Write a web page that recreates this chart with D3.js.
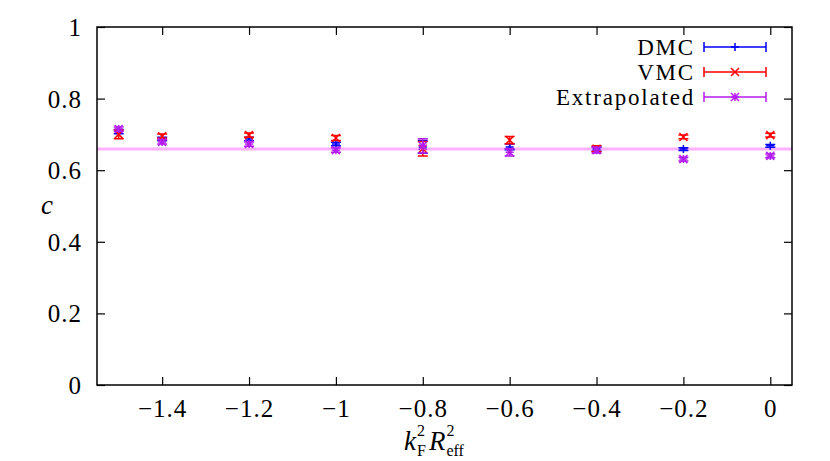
<!DOCTYPE html>
<html lang="en">
<head>
    <meta charset="utf-8">
    <title>c vs kF2 Reff2</title>
    <script src="https://d3js.org/d3.v7.min.js"></script>
    <style>
        body { margin: 0; background: #fff; }
        text { font-family: "Liberation Serif", "DejaVu Serif", serif; fill: #000; }
    </style>
</head>
<body>
<svg id="chart" width="830" height="461"></svg>
<script>
    // values
    var xs = [-1.5, -1.4, -1.2, -1.0, -0.8, -0.6, -0.4, -0.2, 0.0];
    var dmc = [0.708, 0.687, 0.687, 0.673, 0.665, 0.665, 0.659, 0.659, 0.668];
    var dmcErr = [0.006, 0.005, 0.005, 0.005, 0.018, 0.008, 0.006, 0.004, 0.004];
    var vmc = [0.700, 0.695, 0.698, 0.690, 0.660, 0.684, 0.660, 0.693, 0.698];
    var vmcErr = [0.012, 0.006, 0.006, 0.007, 0.020, 0.010, 0.008, 0.005, 0.005];
    var extrap = [0.715, 0.679, 0.673, 0.656, 0.668, 0.650, 0.656, 0.631, 0.640];
    var extrapErr = [0.006, 0.006, 0.006, 0.006, 0.020, 0.010, 0.008, 0.005, 0.005];
    var fitLevel = 0.659;
    var xTicks = [-1.4, -1.2, -1, -0.8, -0.6, -0.4, -0.2, 0];
    var yTicks = [0, 0.2, 0.4, 0.6, 0.8, 1];

    function main() {
        var svg = d3.select("#chart");
        var pl = 97, pr = 792, pt = 27, pb = 385;

        var x = d3.scaleLinear().domain([-1.55, 0.05]).range([pl, pr]);
        var y = d3.scaleLinear().domain([0, 1]).range([pb, pt]);

        function fmt(d) {
            var s = String(+d.toFixed(1));
            return d < 0 ? "\u2212" + s.slice(1) : s;
        }

        // fitted constant
        svg.append("line")
            .attr("x1", pl).attr("x2", pr)
            .attr("y1", y(fitLevel)).attr("y2", y(fitLevel))
            .attr("stroke", "#ffb0ff").attr("stroke-width", 3);

        var series = [
            { name: "DMC", vals: dmc, errs: dmcErr, color: "#0000ff", mark: "plus" },
            { name: "VMC", vals: vmc, errs: vmcErr, color: "#ff0000", mark: "cross" },
            { name: "Extrapolated", vals: extrap, errs: extrapErr, color: "#b41cf0", mark: "star" }
        ];

        function marker(g, cx, cy, kind, color) {
            var s = 4;
            var p = "";
            if (kind === "plus" || kind === "star") p += "M" + (cx - s) + "," + cy + "h" + 2 * s + "M" + cx + "," + (cy - s) + "v" + 2 * s;
            if (kind === "cross" || kind === "star") p += "M" + (cx - s) + "," + (cy - s) + "l" + 2 * s + "," + 2 * s + "M" + (cx - s) + "," + (cy + s) + "l" + 2 * s + "," + (-2 * s);
            g.append("path").attr("d", p).attr("stroke", color).attr("stroke-width", 1.5).attr("fill", "none");
        }

        series.forEach(function (s) {
            var g = svg.append("g");
            xs.forEach(function (xv, i) {
                var cx = x(xv), y0 = y(s.vals[i] - s.errs[i]), y1 = y(s.vals[i] + s.errs[i]);
                g.append("path")
                    .attr("d", "M" + cx + "," + y0 + "V" + y1 + "M" + (cx - 5) + "," + y0 + "h10M" + (cx - 5) + "," + y1 + "h10")
                    .attr("stroke", s.color).attr("stroke-width", 1.5).attr("fill", "none");
                marker(g, cx, y(s.vals[i]), s.mark, s.color);
            });
        });

        // frame
        svg.append("rect")
            .attr("x", pl).attr("y", pt)
            .attr("width", pr - pl).attr("height", pb - pt)
            .attr("fill", "none").attr("stroke", "#000").attr("stroke-width", 1.5);

        // axes with inward ticks, mirrored
        var gx = svg.append("g").attr("transform", "translate(0," + pb + ")")
            .call(d3.axisBottom(x).tickValues(xTicks).tickSize(-8).tickFormat(fmt));
        svg.append("g").attr("transform", "translate(0," + pt + ")")
            .call(d3.axisTop(x).tickValues(xTicks).tickSize(-8).tickFormat(""));
        var gy = svg.append("g").attr("transform", "translate(" + pl + ",0)")
            .call(d3.axisLeft(y).tickValues(yTicks).tickSize(-8).tickFormat(function (d) { return String(+d.toFixed(1)); }));
        svg.append("g").attr("transform", "translate(" + pr + ",0)")
            .call(d3.axisRight(y).tickValues(yTicks).tickSize(-8).tickFormat(""));
        svg.selectAll(".domain").remove();
        svg.selectAll(".tick line").attr("stroke", "#000").attr("stroke-width", 1.2);
        svg.selectAll(".tick text").attr("font-size", "25px").attr("letter-spacing", "1px")
            .attr("font-family", "Liberation Serif, serif");
        gx.selectAll(".tick text").attr("dy", null).attr("y", 32);
        gy.selectAll(".tick text").attr("dy", "0.34em").attr("x", -15);

        // axis titles
        svg.append("text").attr("x", 47).attr("y", 214).attr("text-anchor", "middle")
            .attr("font-size", "27px").attr("font-style", "italic").text("c");

        // x title: k_F^2 R_eff^2 as one text, sub/sup stacked with tspans
        function width(str, size, italic) {
            var t = svg.append("text").attr("font-size", size).attr("font-style", italic ? "italic" : null).text(str);
            var w = t.node().getComputedTextLength();
            t.remove();
            return w;
        }
        var bx = 404, by = 450;
        var fx = bx + width("k", "27px", true) + 1;
        var rx = fx + width("F", "16px") + 3;
        var ex = rx + width("R", "27px", true) + 1;
        var xl = svg.append("text").attr("x", bx).attr("y", by);
        xl.append("tspan").attr("font-size", "27px").attr("font-style", "italic").text("k");
        xl.append("tspan").attr("x", fx).attr("y", by + 6).attr("font-size", "16px").text("F");
        xl.append("tspan").attr("x", fx).attr("y", by - 14).attr("font-size", "16px").text("2");
        xl.append("tspan").attr("x", rx).attr("y", by).attr("font-size", "27px").attr("font-style", "italic").text("R");
        xl.append("tspan").attr("x", ex).attr("y", by + 6).attr("font-size", "16px").text("eff");
        xl.append("tspan").attr("x", ex).attr("y", by - 14).attr("font-size", "16px").text("2");

        // legend
        var legend = svg.append("g");
        series.forEach(function (s, i) {
            var ly = 47 + i * 25;
            legend.append("text").attr("x", 695).attr("y", ly + 8).attr("text-anchor", "end")
                .attr("font-size", "23px").attr("letter-spacing", "1.8px").text(s.name);
            legend.append("path")
                .attr("d", "M704," + ly + "H766M704," + (ly - 5) + "v10M766," + (ly - 5) + "v10")
                .attr("stroke", s.color).attr("stroke-width", 1.5).attr("fill", "none");
            marker(legend, 735, ly, s.mark, s.color);
        });
    }
    main();
</script>
</body>
</html>
